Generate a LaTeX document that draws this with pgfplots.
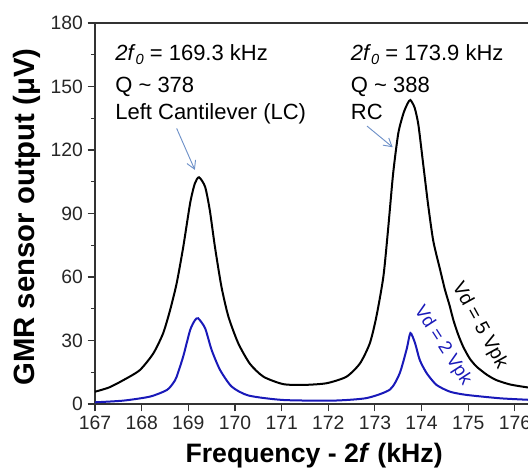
\documentclass[border=0pt]{standalone}
\usepackage{pgfplots}
\pgfplotsset{compat=1.18}
\usepackage{fontspec}
\setmainfont{Liberation Sans}
\usetikzlibrary{arrows.meta}
\definecolor{vblue}{RGB}{25,25,185}
\definecolor{arrowblue}{RGB}{110,145,200}
\pgfplotstableread{
x y
167.00 5.8
167.30 7.8
167.61 11.3
167.96 16.0
168.25 23.9
168.46 33.4
168.61 44.4
168.75 57.0
168.89 74.0
169.04 95.0
169.14 104.2
169.23 107.1
169.36 102.6
169.46 91.6
169.57 74.3
169.71 55.4
169.86 41.2
170.07 28.7
170.32 19.0
170.61 12.9
171.03 9.4
171.46 9.0
171.96 9.8
172.39 12.9
172.68 19.2
172.89 28.7
173.03 41.2
173.18 60.1
173.28 82.2
173.39 109.0
173.50 127.9
173.61 137.3
173.70 142.0
173.76 143.6
173.85 140.0
173.93 132.0
174.03 114.0
174.14 94.0
174.25 77.0
174.39 64.0
174.50 54.0
174.60 46.5
174.68 39.7
174.78 33.0
174.89 27.1
175.03 21.5
175.18 17.6
175.40 13.8
175.60 11.3
175.90 9.2
176.28 7.8
}\blackdata
\pgfplotstableread{
x y
167.00 0.8
167.61 1.6
168.18 3.5
168.54 6.6
168.68 10.0
168.75 12.9
168.89 22.4
169.04 35.0
169.14 39.5
169.21 40.5
169.36 35.8
169.50 25.5
169.68 16.1
169.93 8.2
170.29 4.0
171.03 1.9
172.10 1.6
172.82 2.8
173.32 6.8
173.53 14.5
173.68 26.0
173.76 33.5
173.86 28.7
173.96 20.8
174.11 14.5
174.32 9.0
174.61 5.8
174.96 4.3
175.68 2.7
176.28 2.0
}\bluedata
\begin{document}
\begin{tikzpicture}
\begin{axis}[
  scale only axis,
  width=324.75pt, height=285.75pt,
  xmin=167, xmax=176.28, ymin=0, ymax=180,
  axis x line*=bottom, axis y line*=left,
  axis line style={line width=0.8pt, black!80},
  xtick={167,168,...,176},
  ytick={0,30,...,180},
  minor y tick num=1,
  tick align=outside,
  major tick length=5.5pt, minor tick length=3pt,
  tick style={line width=0.8pt, black!80},
  /pgf/number format/assume math mode=true,
  xticklabel={\fontsize{14.5}{16}\selectfont\pgfmathprintnumber{\tick}},
  yticklabel={\fontsize{14.5}{16}\selectfont\pgfmathprintnumber{\tick}},
  tick label style={text=black!85},
  xlabel={\textbf{Frequency - 2\textit{f} (kHz)}},
  ylabel={\textbf{GMR sensor output (μV)}},
  xlabel style={at={(axis description cs:0.506,0)}, anchor=base, yshift=-44.25pt, font=\fontsize{20}{22}\selectfont},
  ylabel style={at={(axis description cs:-0.157,0.491)}, anchor=center, font=\fontsize{22}{24}\selectfont},
  clip=false,
]
\draw[line width=0.8pt, black!80] (rel axis cs:0,1) -- (rel axis cs:1,1);
\addplot[black, line width=1.5pt, smooth, tension=0.4] table[x=x,y=y] {\blackdata};
\addplot[vblue, line width=1.5pt, smooth, tension=0.4] table[x=x,y=y] {\bluedata};
% annotations
\begin{scope}[every node/.style={font=\fontsize{16.5}{18}\selectfont, inner sep=0pt, anchor=base west}]
\node at (axis cs:167.43,162.5) {\textit{2f}\raisebox{-0.35ex}{\fontsize{11}{12}\selectfont\textit{0}} = 169.3 kHz};
\node at (axis cs:167.43,147.1) {Q \textasciitilde\ 378};
\node at (axis cs:167.43,134.6) {Left Cantilever (LC)};
\node at (axis cs:172.48,162.5) {\textit{2f}\raisebox{-0.35ex}{\fontsize{11}{12}\selectfont\textit{0}} = 173.9 kHz};
\node at (axis cs:172.48,147.1) {Q \textasciitilde\ 388};
\node at (axis cs:172.48,134.6) {RC};
\end{scope}
\draw[arrowblue, line width=0.7pt, -{Straight Barb[length=6pt,width=7pt]}] (axis cs:168.75,130.2) -- (axis cs:169.14,110.6);
\draw[arrowblue, line width=0.7pt, -{Straight Barb[length=6pt,width=7pt]}] (axis cs:172.83,131.3) -- (axis cs:173.38,121.3);
\node[rotate=-61, font=\fontsize{14.5}{16}\selectfont, black, inner sep=0pt] at (axis cs:175.24,37.0) {Vd = 5 Vpk};
\node[rotate=-57, font=\fontsize{13.7}{15}\selectfont, vblue, inner sep=0pt] at (axis cs:174.45,27.6) {Vd = 2 Vpk};
\coordinate (SW) at (rel axis cs:0,0);
\coordinate (NE) at (rel axis cs:1,1);
\end{axis}
\pgfresetboundingbox
\path[use as bounding box] ([xshift=-71.25pt,yshift=-49.5pt]SW) rectangle ([yshift=17.25pt]NE);
\end{tikzpicture}
\end{document}
